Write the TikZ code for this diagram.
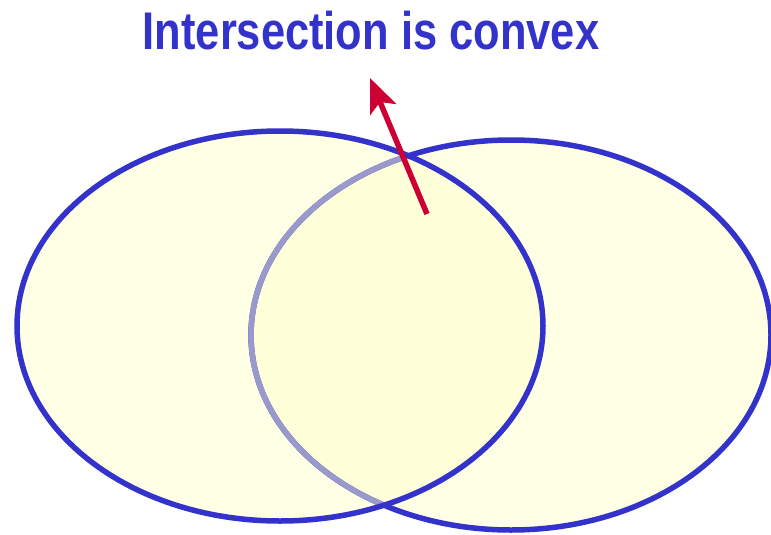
\documentclass[tikz,border=0pt]{standalone}
\usepackage{fontspec}
\setmainfont{Liberation Sans}
\usetikzlibrary{arrows.meta}
\definecolor{setblue}{HTML}{3333CC}
\definecolor{setgray}{HTML}{9999CC}
\definecolor{setfill}{HTML}{FFFFE6}
\definecolor{capfill}{HTML}{FFFFD9}
\definecolor{arrowred}{HTML}{CC0033}
\begin{document}
\begin{tikzpicture}[x=1pt,y=-1pt]
            \def\lx{280}
            \def\ly{326}
            \def\rx{511}
            \def\ry{335}
            \useasboundingbox (0,0) rectangle (771,535);
            \fill[setfill] (\lx,\ly) ellipse [x radius=263,y radius=195];
            \fill[setfill] (\rx,\ry) ellipse [x radius=260,y radius=195];
            \begin{scope}
                \clip (\lx,\ly) ellipse [x radius=263,y radius=195];
                \fill[capfill] (\rx,\ry) ellipse [x radius=260,y radius=195];
            \end{scope}
            \draw[line width=5.5pt,setblue] (\rx,\ry) ellipse [x radius=260,y radius=195];
            \begin{scope}
                \clip (\lx,\ly) ellipse [x radius=263,y radius=195];
                \draw[line width=5.5pt,setgray] (\rx,\ry) ellipse [x radius=260,y radius=195];
            \end{scope}
            \draw[line width=5.5pt,setblue] (\lx,\ly) ellipse [x radius=263,y radius=195];
            \node[text=setblue,font=\bfseries\fontsize{53}{60}\selectfont,
                xscale=0.82] (title) at (371,31) {Intersection is convex};
            \coordinate (foot) at (427,214);
            \coordinate (tip) at (370,78);
            \draw[line width=5.5pt,arrowred,
                -{Stealth[length=34pt,width=28pt,inset=8pt]}]
                (foot)--(tip);
            \end{tikzpicture}
\end{document}
